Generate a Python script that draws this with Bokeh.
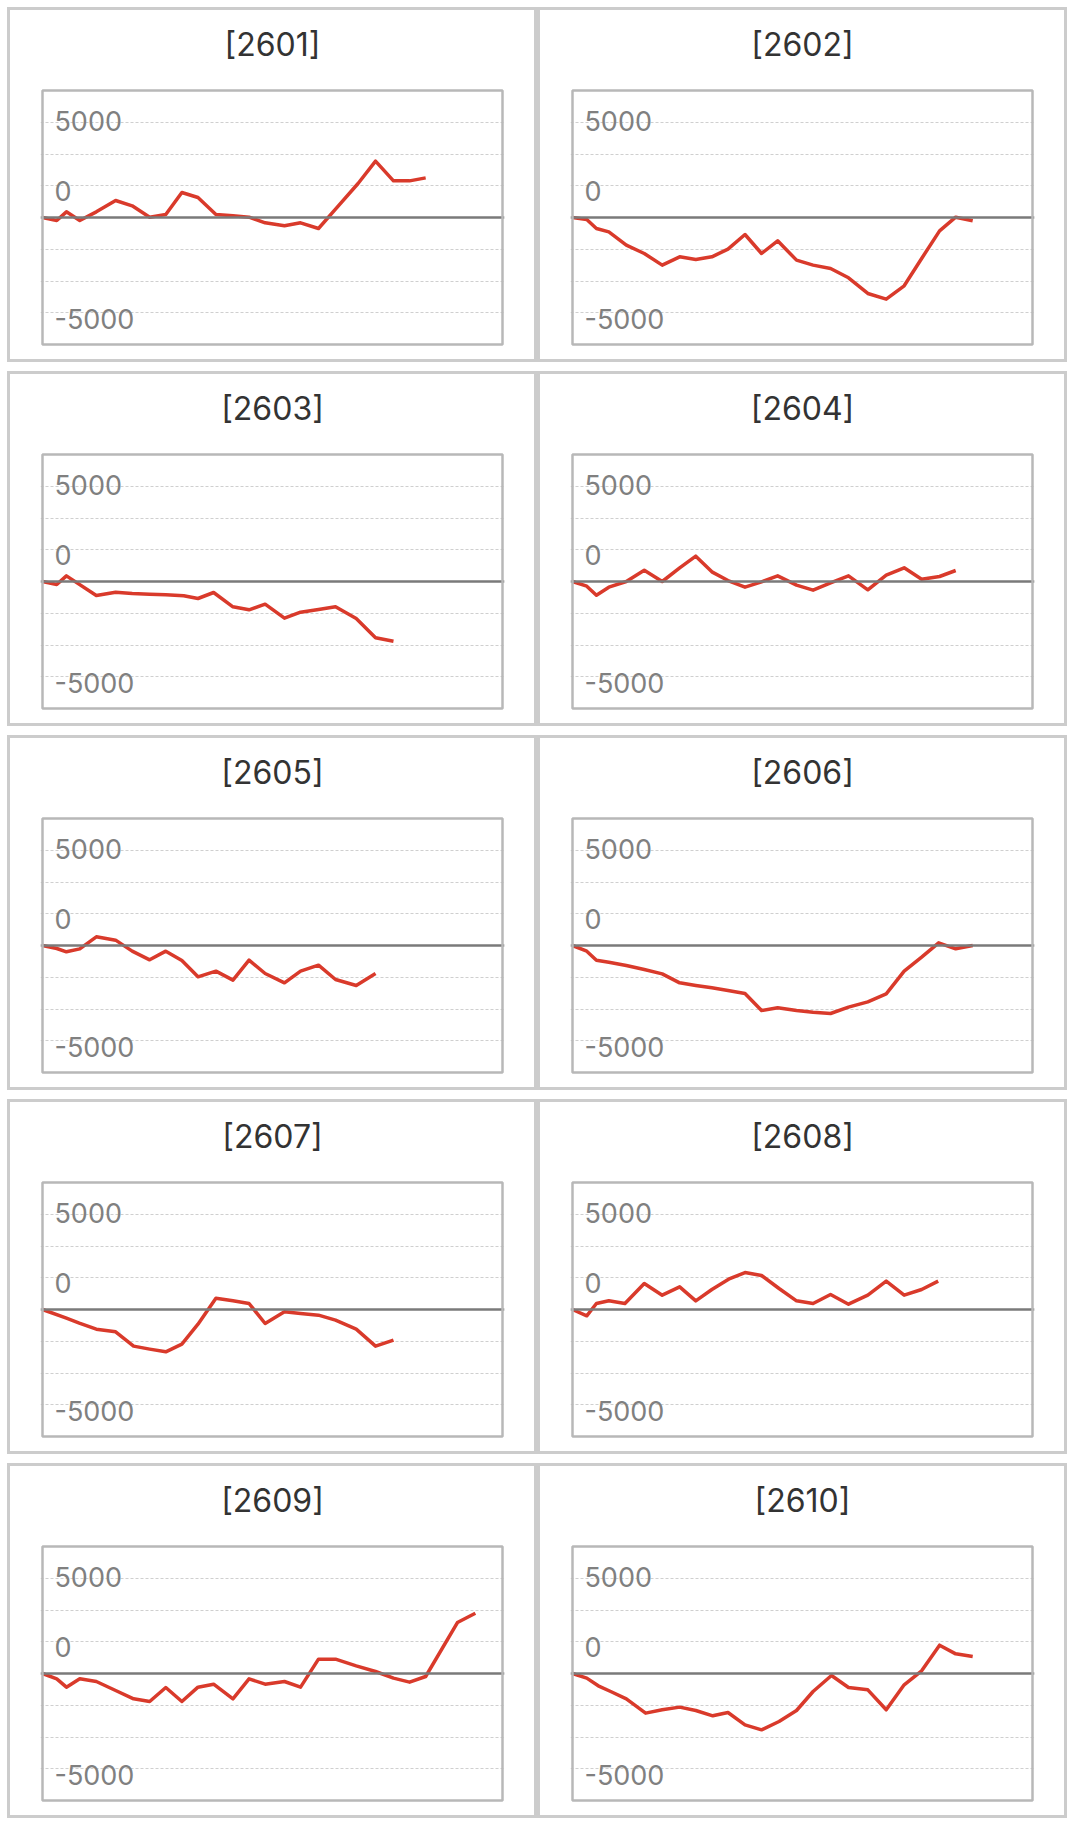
from bokeh.plotting import figure
from bokeh.models import Label, Span, FixedTicker, Range1d, Grid, BoxAnnotation
from bokeh.layouts import column, row
from bokeh.embed import file_html
from bokeh.resources import INLINE

# ---------------- data ----------------
codes = ["2601", "2602", "2603", "2604", "2605", "2606", "2607", "2608", "2609", "2610"]

x_2601 = [0, 3.1, 5.2, 8.1, 11.7, 15.9, 19.5, 23.3, 26.8, 30.3, 33.8, 37.7, 41.4, 44.9, 48.4, 52.6,
          56.1, 60.0, 63.7, 68.6, 72.4, 76.3, 79.8, 83.3]
y_2601 = [0, -157, 297, -157, 297, 892, 612, 17, 157, 1312, 1049, 157, 87, 17, -280, -437,
          -280, -577, 437, 1784, 2956, 1924, 1924, 2081]

x_2602 = [0, 3.1, 5.2, 7.9, 11.7, 15.6, 19.5, 23.3, 26.8, 30.3, 33.8, 37.5, 41.1, 44.6, 48.7, 52.3,
          56.1, 60.0, 64.2, 68.2, 72.1, 75.9, 79.8, 83.3, 87.0]
y_2602 = [0, -105, -577, -752, -1452, -1889, -2501, -2064, -2204, -2064, -1662, -892, -1889, -1224,
          -2239, -2501, -2676, -3166, -3988, -4285, -3585, -2151, -700, 17, -175]

x_2603 = [0, 3.1, 5.2, 11.7, 15.9, 19.5, 23.3, 26.8, 30.7, 33.8, 37.2, 41.4, 44.9, 48.4, 52.6, 56.1,
          60.0, 63.7, 68.2, 72.4, 76.3]
y_2603 = [0, -157, 297, -735, -560, -630, -665, -700, -752, -892, -577, -1330, -1487, -1190, -1925,
          -1610, -1470, -1330, -1942, -2957, -3132]

x_2604 = [0, 3.1, 5.2, 7.9, 11.7, 15.6, 19.5, 23.3, 26.8, 30.3, 33.8, 37.5, 41.1, 44.6, 48.7, 52.3,
          56.1, 60.0, 64.2, 68.2, 72.1, 75.9, 79.8, 83.3]
y_2604 = [0, -245, -717, -297, 0, 595, 0, 717, 1330, 507, 52, -297, -17, 297, -192, -455,
          -70, 297, -437, 332, 717, 122, 262, 577]

x_2605 = [0, 3.1, 5.2, 8.1, 11.7, 15.9, 19.5, 23.3, 26.8, 30.3, 33.8, 37.7, 41.4, 44.9, 48.4, 52.6,
          56.1, 60.0, 63.7, 68.2, 72.4]
y_2605 = [0, -157, -332, -175, 455, 280, -297, -752, -297, -787, -1645, -1347, -1820, -770, -1470,
          -1960, -1347, -1032, -1785, -2100, -1470]

x_2606 = [0, 3.1, 5.2, 7.9, 11.7, 15.6, 19.5, 23.3, 26.8, 30.3, 33.8, 37.5, 41.1, 44.6, 48.7, 52.3,
          56.1, 60.0, 64.2, 68.2, 72.1, 75.9, 79.6, 83.3, 87.0]
y_2606 = [0, -297, -770, -875, -1050, -1260, -1487, -1960, -2100, -2222, -2362, -2520, -3412, -3272,
          -3412, -3500, -3570, -3237, -2957, -2537, -1347, -612, 140, -175, 0]

x_2607 = [0, 5.2, 8.0, 11.7, 15.9, 19.8, 23.3, 26.8, 30.3, 33.8, 37.7, 41.4, 44.9, 48.4, 52.6, 56.1,
          60.0, 63.7, 68.2, 72.4, 76.3]
y_2607 = [0, -455, -717, -1032, -1172, -1924, -2081, -2221, -1819, -770, 594, 455, 315, -735, -122,
          -210, -297, -560, -1032, -1924, -1609]

x_2608 = [0, 3.1, 5.2, 7.9, 11.4, 15.6, 19.5, 23.3, 26.8, 30.3, 34.2, 37.5, 41.1, 44.9, 48.7, 52.3,
          56.1, 60.0, 64.2, 68.2, 72.1, 75.9, 79.5]
y_2608 = [0, -332, 315, 455, 315, 1364, 752, 1189, 455, 1049, 1626, 1941, 1784, 1102, 455, 315,
          787, 280, 752, 1487, 752, 1049, 1487]

x_2609 = [0, 3.1, 5.2, 8.1, 11.7, 15.9, 19.8, 23.3, 26.8, 30.3, 33.8, 37.2, 41.4, 44.9, 48.4, 52.6,
          56.1, 60.0, 63.7, 68.2, 72.4, 76.3, 79.8, 83.3, 90.2, 94.1]
y_2609 = [0, -280, -717, -280, -420, -892, -1329, -1469, -735, -1469, -717, -560, -1329, -280, -560,
          -420, -717, 752, 752, 402, 105, -245, -455, -157, 2676, 3166]

x_2610 = [0, 3.1, 5.6, 8.3, 11.7, 15.9, 19.5, 23.3, 26.8, 30.5, 33.8, 37.5, 41.1, 44.9, 48.7, 52.3,
          56.3, 60.0, 64.2, 68.2, 72.1, 75.9, 79.8, 83.3, 87.0]
y_2610 = [0, -245, -647, -945, -1329, -2081, -1906, -1766, -1941, -2221, -2046, -2693, -2956, -2518,
          -1941, -945, -105, -735, -857, -1906, -595, 140, 1487, 1032, 892]

series = {
    "2601": (x_2601, y_2601), "2602": (x_2602, y_2602), "2603": (x_2603, y_2603),
    "2604": (x_2604, y_2604), "2605": (x_2605, y_2605), "2606": (x_2606, y_2606),
    "2607": (x_2607, y_2607), "2608": (x_2608, y_2608), "2609": (x_2609, y_2609),
    "2610": (x_2610, y_2610),
}

x_max = 100
y_step = 5000 / 3
y_lim = 4 * y_step
grid_values = [-3 * y_step, -2 * y_step, -y_step, y_step, 2 * y_step, 3 * y_step]
tick_labels = ["5000", "0", "-5000"]
tick_label_y = [5080, 1410, -5310]

FONT = "Inter"
RED = "#d93a2b"

# pixel geometry of the plot box inside each panel
BOX_W, BOX_H = 460, 254
PAD = 2                     # px of breathing room around the plot box
CAP = 80                    # px reserved above the plot box for the caption
XPX = x_max / BOX_W         # data units per px (x)
PX = 2 * y_lim / BOX_H      # data units per px (y)


def make_panel(code):
    xs, ys = series[code]
    p = figure(width=530, height=355,
               x_range=Range1d(-PAD * XPX, x_max + PAD * XPX),
               y_range=Range1d(-y_lim - PAD * PX, y_lim + CAP * PX),
               x_axis_location=None, y_axis_location=None,
               toolbar_location=None, output_backend="svg",
               min_border_left=32 - PAD, min_border_right=38 - PAD,
               min_border_top=0, min_border_bottom=21 - PAD,
               outline_line_color=None,
               background_fill_color="white", border_fill_color="white")
    p.styles = {"border": "3px solid #cccccc", "box-sizing": "border-box"}

    # remove default grids, add the dashed horizontal guide lines
    p.center = [c for c in p.center if not isinstance(c, Grid)]
    g = Grid(dimension=1, ticker=FixedTicker(ticks=grid_values),
             grid_line_color="#cfcfcf", grid_line_width=1, grid_line_dash="3 2")
    p.add_layout(g)
    p.add_layout(Span(location=0, dimension="width", line_color="#7a7a7a", line_width=2.6))

    # plot box
    p.add_layout(BoxAnnotation(left=0, right=x_max, bottom=-y_lim, top=y_lim,
                               fill_color=None, fill_alpha=0,
                               line_color="#b8b8b8", line_alpha=1.0, line_width=2.5,
                               level="overlay"))

    for txt, yy in zip(tick_labels, tick_label_y):
        p.add_layout(Label(x=2.6, y=yy, text=txt, text_font=FONT, text_font_size="27px",
                           text_color="#808080", text_baseline="middle", text_align="left"))

    # panel caption
    p.add_layout(Label(x=x_max / 2, y=y_lim + 46 * PX, text="[" + code + "]", text_font=FONT,
                       text_font_size="32px", text_color="#333333",
                       text_baseline="middle", text_align="center"))

    p.line(xs, ys, line_color=RED, line_width=3.5, line_join="round")
    return p


panels = [make_panel(c) for c in codes]
rows = [row(panels[i], panels[i + 1], spacing=0) for i in range(0, len(panels), 2)]
layout = column(*rows, spacing=9, styles={"margin-left": "7px", "margin-top": "7px"})

open("out.html", "w").write(file_html(layout, INLINE))
